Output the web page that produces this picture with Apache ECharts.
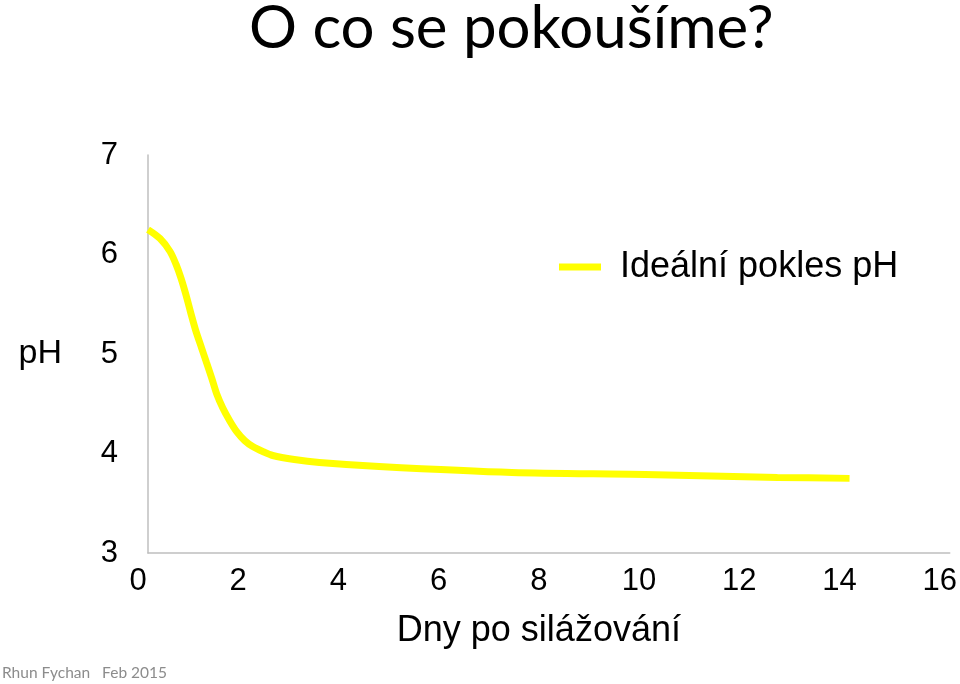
<!DOCTYPE html>
<html>
<head>
<meta charset="utf-8">
<script src="https://cdn.jsdelivr.net/npm/echarts@6/dist/echarts.min.js"></script>
<style>
  html, body { margin: 0; padding: 0; background: #fff; }
  #main { width: 960px; height: 684px; }
</style>
</head>
<body>
<div id="main"></div>
<script>
 // days after ensiling and the ideal pH drop
 var days = [0, 0.24, 0.44, 0.56, 0.66, 0.76, 0.85, 0.95, 1.07, 1.17, 1.27, 1.37, 1.49, 1.63, 1.77, 1.93,
     2.09, 2.29, 2.49, 2.92, 3.42, 4.61, 7.26, 9.92, 12.56, 14.0];
 var phValues = [6.25, 6.16, 6.03, 5.90, 5.76, 5.59, 5.42, 5.24, 5.06, 4.91, 4.76, 4.60, 4.46, 4.33, 4.22, 4.13,
     4.07, 4.02, 3.98, 3.94, 3.91, 3.87, 3.81, 3.79, 3.76, 3.75];
 var seriesName = 'Ideální pokles pH';
 var xTicks = [0, 16, 2];   // min, max, interval
 var yTicks = [3, 7, 1];

 var points = days.map(function (d, i) { return [d, phValues[i]]; });

 var myChart = echarts.init(document.getElementById('main'));
 var option = {
     backgroundColor: '#fff',
     animation: false,
     title: {
         text: 'O co se pokoušíme?',
         left: 244,
         top: -6,
         textStyle: {
             fontFamily: 'Lato',
             fontWeight: 'normal',
             fontSize: 60,
             color: '#000'
         }
     },
     legend: {
         left: 554,
         top: 244,
         icon: 'rect',
         itemWidth: 42,
         itemHeight: 7,
         itemGap: 0,
         data: [seriesName],
         textStyle: {
             fontFamily: 'Liberation Sans',
             fontSize: 36,
             color: '#000',
             padding: [0, 0, 0, 14]
         }
     },
     grid: {
         left: 148,
         right: 7,
         top: 155,
         bottom: 131
     },
     xAxis: {
         type: 'value',
         min: xTicks[0],
         max: xTicks[1],
         interval: xTicks[2],
         name: 'Dny po silážování',
         nameLocation: 'middle',
         nameGap: 60,
         nameTextStyle: {
             fontFamily: 'Liberation Sans',
             fontSize: 36,
             color: '#000',
             padding: [0, 20, 0, 0]
         },
         axisLine: { show: true, lineStyle: { color: '#bfbfbf', width: 1.5 } },
         axisTick: { show: false },
         splitLine: { show: false },
         axisLabel: {
             margin: 13,
             fontFamily: 'Liberation Sans',
             fontSize: 31,
             color: '#000',
             padding: [0, 20, 0, 0]
         }
     },
     yAxis: {
         type: 'value',
         min: yTicks[0],
         max: yTicks[1],
         interval: yTicks[2],
         name: 'pH',
         nameLocation: 'middle',
         nameRotate: 0,
         nameGap: 86,
         nameTextStyle: {
             fontFamily: 'Liberation Sans',
             fontSize: 34,
             color: '#000',
             padding: [0, 0, 48, 0]
         },
         axisLine: { show: true, lineStyle: { color: '#bfbfbf', width: 1.5 } },
         axisTick: { show: false },
         splitLine: { show: false },
         axisLabel: {
             margin: 30,
             fontFamily: 'Liberation Sans',
             fontSize: 31,
             color: '#000'
         }
     },
     graphic: [{
         type: 'text',
         left: 2,
         top: 665,
         style: {
             text: 'Rhun Fychan   Feb 2015',
             fontFamily: 'Lato',
             fontSize: 15.5,
             fill: '#8c8c8c'
         }
     }],
     series: [{
         name: seriesName,
         type: 'line',
         data: points,
         smooth: 0.3,
         showSymbol: false,
         symbol: 'none',
         itemStyle: { color: '#ffff00' },
         lineStyle: { color: '#ffff00', width: 7, cap: 'butt' }
     }]
 };

 myChart.setOption(option);
</script>
</body>
</html>
